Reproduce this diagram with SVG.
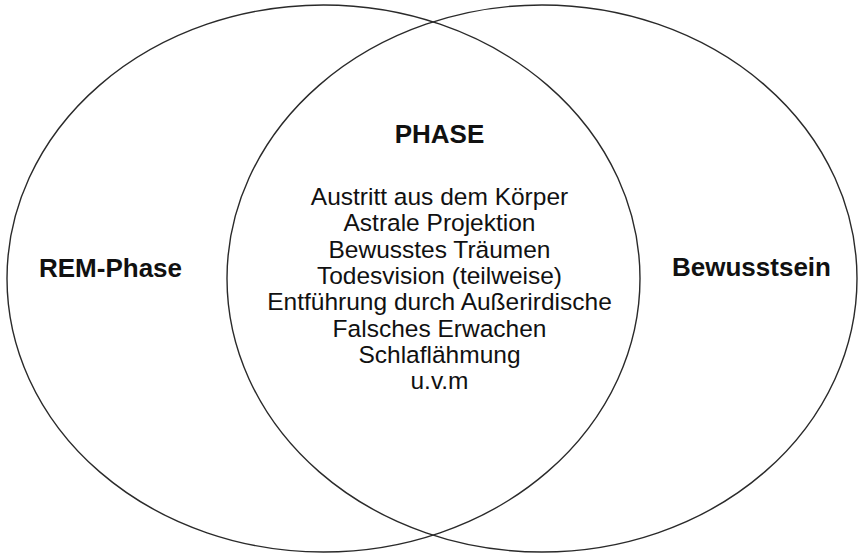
<svg xmlns="http://www.w3.org/2000/svg" width="859" height="554" viewBox="0 0 859 554">
<style>
.c{fill:none;stroke:#2a2a2a;stroke-width:1.4}
.b{font-family:"Liberation Sans",Arial,sans-serif;font-weight:bold;font-size:26px;fill:#111;text-anchor:middle}
.t{font-family:"Liberation Sans",Arial,sans-serif;font-size:24.5px;fill:#111;text-anchor:middle}
</style>
<rect width="859" height="554" fill="#fff"/>
<g id="rem">
<ellipse class="c" cx="323.5" cy="278.5" rx="316.5" ry="273.5"/>
<text class="b" x="110.5" y="277">REM-Phase</text>
</g>
<g id="bewusstsein">
<ellipse class="c" cx="542" cy="278.5" rx="315" ry="273.5"/>
<text class="b" x="751.5" y="276">Bewusstsein</text>
</g>
<g id="phase">
<text class="b" x="439.5" y="143">PHASE</text>
<text class="t" x="439.5" y="205">Austritt aus dem Körper</text>
<text class="t" x="439.5" y="231.3">Astrale Projektion</text>
<text class="t" x="439.5" y="257.6">Bewusstes Träumen</text>
<text class="t" x="439.5" y="283.9">Todesvision (teilweise)</text>
<text class="t" x="439.5" y="310.2">Entführung durch Außerirdische</text>
<text class="t" x="439.5" y="336.5">Falsches Erwachen</text>
<text class="t" x="439.5" y="362.8">Schlaflähmung</text>
<text class="t" x="439.5" y="389.1">u.v.m</text>
</g>
<g id="connectors"></g>
</svg>
